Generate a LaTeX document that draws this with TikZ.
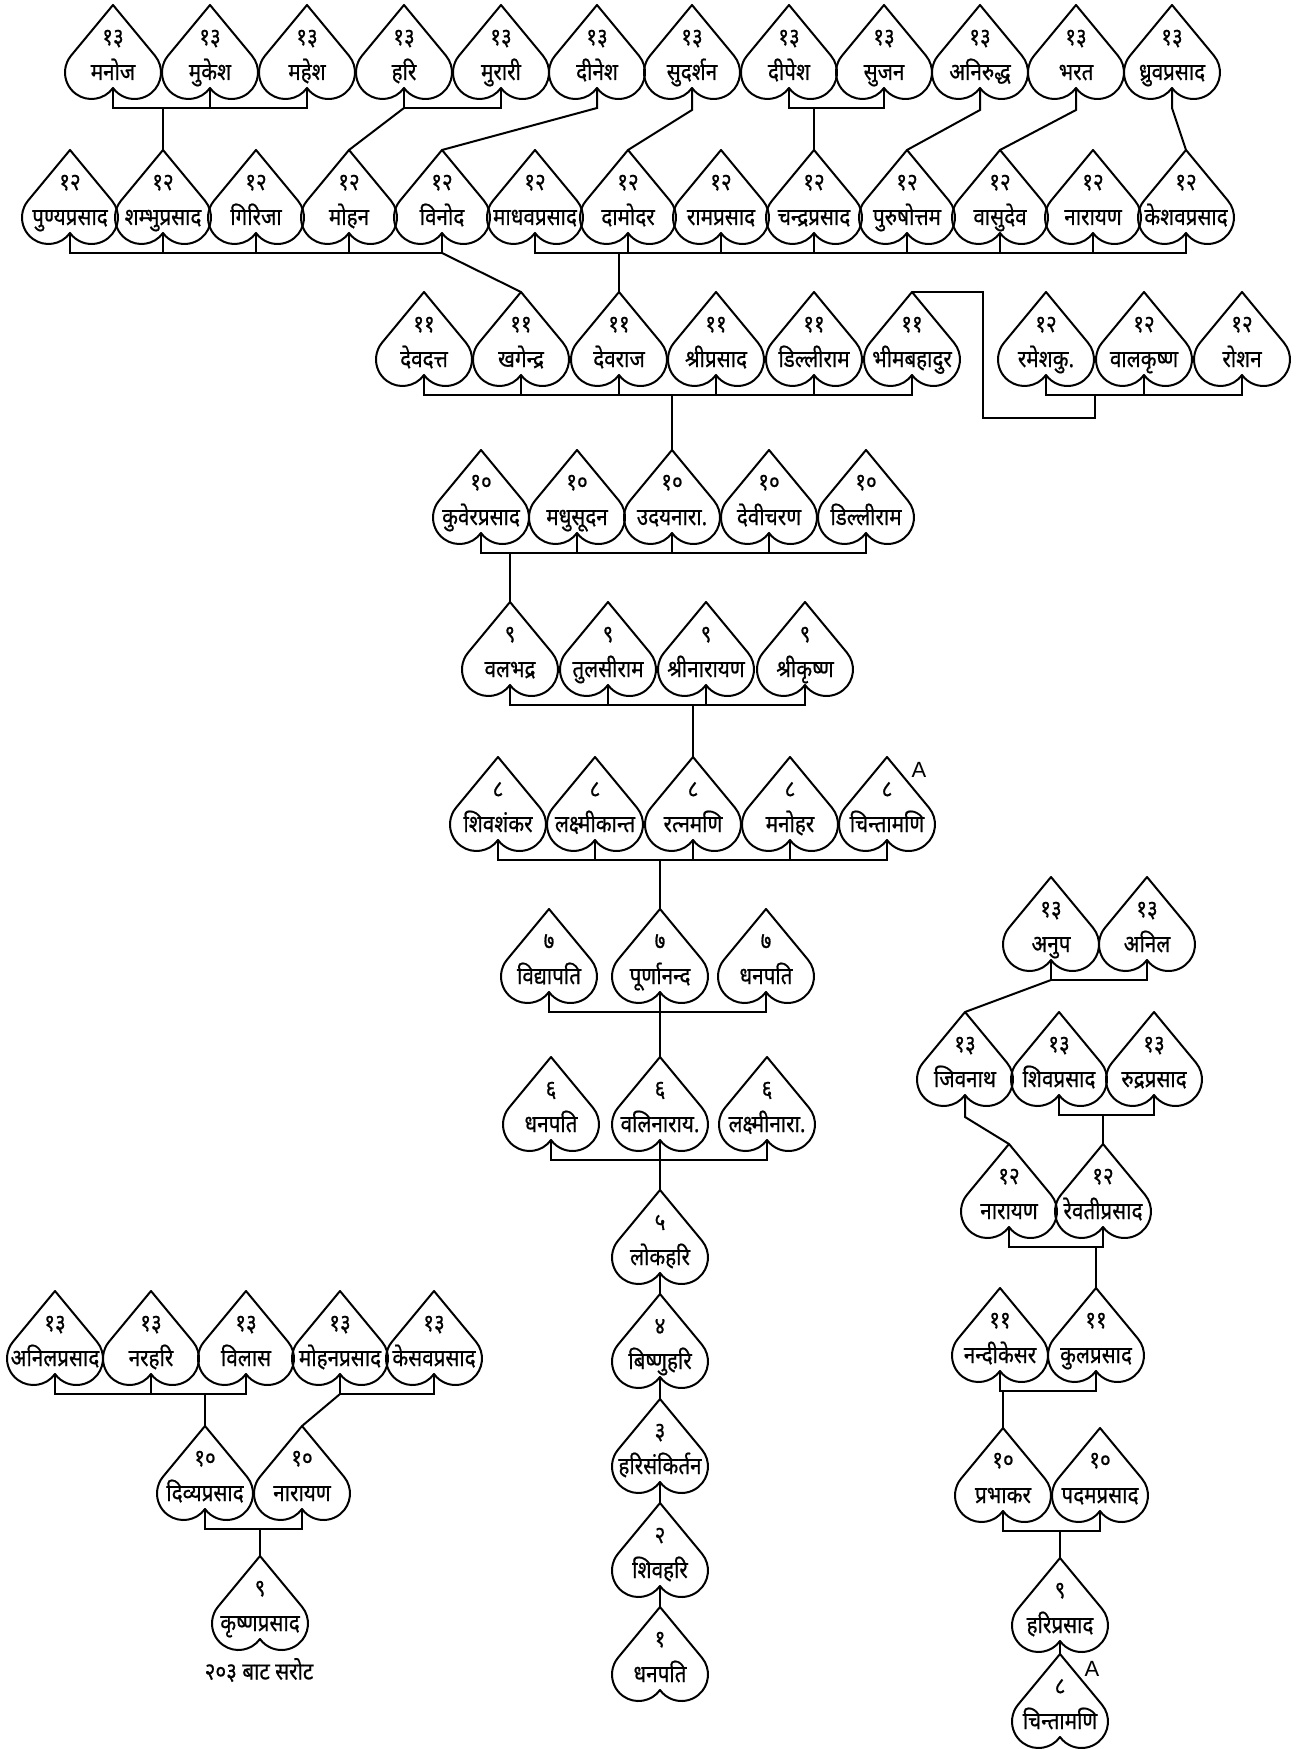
\documentclass[tikz,border=0pt]{standalone}
\usepackage{fontspec}
\setmainfont{Noto Sans}[Script=Devanagari, FakeStretch=0.86, FakeBold=0.6]
\newfontfamily\latinfont{Liberation Sans}
\usepackage{tikz}

\tikzset{
  leafline/.style={line width=1pt, line join=round},
  tie/.style={line width=1pt},
  num/.style={inner sep=0pt, anchor=base, font=\fontsize{12}{13}\selectfont},
  who/.style={inner sep=0pt, anchor=base, font=\fontsize{12}{13}\selectfont},
  tag/.style={inner sep=0pt, font=\latinfont\fontsize{11}{12}\selectfont},
  pics/leaf/.style 2 args={code={
    \draw[leafline] (0,0) -- (41.9,50.6)
      arc[start angle=-39.64, end angle=144.23, radius=26.5]
      arc[start angle=35.77, end angle=219.64, radius=26.5] -- cycle;
    \coordinate (-top) at (0,0);
    \coordinate (-bot) at (0,83);
    \node[num] (-num) at (0,40) {#1};
    \node[who] (-who) at (0,75) {#2};
  }}
}

\begin{document}
\begin{tikzpicture}[x=0.5pt, y=-0.5pt]
\useasboundingbox (0,0) rectangle (1306,1749);

% generation 13
\pic (manoj) at (113,5) {leaf={१३}{मनोज}};
\pic (mukesh) at (210,5) {leaf={१३}{मुकेश}};
\pic (mahesh) at (307,5) {leaf={१३}{महेश}};
\pic (hari) at (404,5) {leaf={१३}{हरि}};
\pic (murari) at (501,5) {leaf={१३}{मुरारी}};
\pic (dinesh) at (597,5) {leaf={१३}{दीनेश}};
\pic (sudarshan) at (692,5) {leaf={१३}{सुदर्शन}};
\pic (dipesh) at (789,5) {leaf={१३}{दीपेश}};
\pic (sujan) at (884,5) {leaf={१३}{सुजन}};
\pic (aniruddha) at (980,5) {leaf={१३}{अनिरुद्ध}};
\pic (bharat) at (1076,5) {leaf={१३}{भरत}};
\pic (dhruva) at (1172,5) {leaf={१३}{ध्रुवप्रसाद}};

% generation 12
\pic (punya) at (70,150) {leaf={१२}{पुण्यप्रसाद}};
\pic (shambhu) at (163,150) {leaf={१२}{शम्भुप्रसाद}};
\pic (girija) at (256,150) {leaf={१२}{गिरिजा}};
\pic (mohan) at (349,150) {leaf={१२}{मोहन}};
\pic (vinod) at (442,150) {leaf={१२}{विनोद}};
\pic (madhav) at (535,150) {leaf={१२}{माधवप्रसाद}};
\pic (damodar) at (628,150) {leaf={१२}{दामोदर}};
\pic (ramp) at (721,150) {leaf={१२}{रामप्रसाद}};
\pic (chandra) at (814,150) {leaf={१२}{चन्द्रप्रसाद}};
\pic (purush) at (907,150) {leaf={१२}{पुरुषोत्तम}};
\pic (vasudev) at (1000,150) {leaf={१२}{वासुदेव}};
\pic (narayanA) at (1093,150) {leaf={१२}{नारायण}};
\pic (keshav) at (1186,150) {leaf={१२}{केशवप्रसाद}};

% generation 11
\pic (devdatta) at (424,292) {leaf={११}{देवदत्त}};
\pic (khagendra) at (521,292) {leaf={११}{खगेन्द्र}};
\pic (devraj) at (619,292) {leaf={११}{देवराज}};
\pic (shrip) at (716,292) {leaf={११}{श्रीप्रसाद}};
\pic (dilliA) at (814,292) {leaf={११}{डिल्लीराम}};
\pic (bhim) at (912,292) {leaf={११}{भीमबहादुर}};
\pic (ramesh) at (1046,292) {leaf={१२}{रमेशकु.}};
\pic (balkrishna) at (1144,292) {leaf={१२}{वालकृष्ण}};
\pic (roshan) at (1242,292) {leaf={१२}{रोशन}};

% generation 10
\pic (kuber) at (481,450) {leaf={१०}{कुवेरप्रसाद}};
\pic (madhusudan) at (577,450) {leaf={१०}{मधुसूदन}};
\pic (udaya) at (672,450) {leaf={१०}{उदयनारा.}};
\pic (devicharan) at (769,450) {leaf={१०}{देवीचरण}};
\pic (dilliB) at (866,450) {leaf={१०}{डिल्लीराम}};

% generation 9
\pic (balbhadra) at (510,602) {leaf={९}{वलभद्र}};
\pic (tulsi) at (608,602) {leaf={९}{तुलसीराम}};
\pic (shrinarayan) at (706,602) {leaf={९}{श्रीनारायण}};
\pic (shrikrishna) at (805,602) {leaf={९}{श्रीकृष्ण}};

% generation 8
\pic (shivshankar) at (498,757) {leaf={८}{शिवशंकर}};
\pic (laxmikant) at (595,757) {leaf={८}{लक्ष्मीकान्त}};
\pic (ratna) at (693,757) {leaf={८}{रत्नमणि}};
\pic (manohar) at (790,757) {leaf={८}{मनोहर}};
\pic (chintaA) at (887,757) {leaf={८}{चिन्तामणि}};
\node[tag] (tagA) at (919,770) {A};

% generation 7 and 6
\pic (vidya) at (549,909) {leaf={७}{विद्यापति}};
\pic (purna) at (660,909) {leaf={७}{पूर्णानन्द}};
\pic (dhanA) at (766,909) {leaf={७}{धनपति}};
\pic (dhanB) at (551,1057) {leaf={६}{धनपति}};
\pic (bali) at (660,1057) {leaf={६}{वलिनाराय.}};
\pic (laxminar) at (767,1057) {leaf={६}{लक्ष्मीनारा.}};

% generation 5 to 1
\pic (lok) at (660,1190) {leaf={५}{लोकहरि}};
\pic (bishnu) at (660,1294) {leaf={४}{बिष्णुहरि}};
\pic (sankirtan) at (660,1399) {leaf={३}{हरिसंकिर्तन}};
\pic (shivhari) at (660,1503) {leaf={२}{शिवहरि}};
\pic (dhanC) at (660,1607) {leaf={१}{धनपति}};

% left branch
\pic (anilp) at (55,1291) {leaf={१३}{अनिलप्रसाद}};
\pic (narhari) at (151,1291) {leaf={१३}{नरहरि}};
\pic (vilas) at (246,1291) {leaf={१३}{विलास}};
\pic (mohanp) at (340,1291) {leaf={१३}{मोहनप्रसाद}};
\pic (kesav) at (434,1291) {leaf={१३}{केसवप्रसाद}};
\pic (divya) at (205,1426) {leaf={१०}{दिव्यप्रसाद}};
\pic (narayanB) at (302,1426) {leaf={१०}{नारायण}};
\pic (krishna) at (260,1556) {leaf={९}{कृष्णप्रसाद}};
\node[who, anchor=center] (note) at (259,1670) {२०३ बाट सरोट};

% right branch
\pic (anup) at (1051,877) {leaf={१३}{अनुप}};
\pic (anil) at (1147,877) {leaf={१३}{अनिल}};
\pic (jivnath) at (965,1012) {leaf={१३}{जिवनाथ}};
\pic (shivp) at (1059,1012) {leaf={१३}{शिवप्रसाद}};
\pic (rudra) at (1154,1012) {leaf={१३}{रुद्रप्रसाद}};
\pic (narayanC) at (1009,1144) {leaf={१२}{नारायण}};
\pic (revati) at (1103,1144) {leaf={१२}{रेवतीप्रसाद}};
\pic (nandi) at (1000,1288) {leaf={११}{नन्दीकेसर}};
\pic (kul) at (1096,1288) {leaf={११}{कुलप्रसाद}};
\pic (prabhakar) at (1003,1428) {leaf={१०}{प्रभाकर}};
\pic (padam) at (1100,1428) {leaf={१०}{पदमप्रसाद}};
\pic (hariprasad) at (1060,1558) {leaf={९}{हरिप्रसाद}};
\pic (chintaB) at (1060,1654) {leaf={८}{चिन्तामणि}};
\node[tag] (tagB) at (1092,1669) {A};

% links 13 -> 12
\draw[tie] (manoj-bot) -- ++(0,20) coordinate (b1) -| (mahesh-bot) (mukesh-bot) -- ++(0,20);
\draw[tie] (b1 -| shambhu-top) -- (shambhu-top);
\draw[tie] (hari-bot) -- ++(0,20) coordinate (b2) -| (murari-bot);
\draw[tie] (b2) -- (mohan-top);
\draw[tie] (dinesh-bot) -- ++(0,20) -- (vinod-top);
\draw[tie] (sudarshan-bot) -- ++(0,22) -- (damodar-top);
\draw[tie] (dipesh-bot) -- ++(0,20) coordinate (b3) -| (sujan-bot);
\draw[tie] (b3 -| chandra-top) -- (chandra-top);
\draw[tie] (aniruddha-bot) -- ++(0,22) -- (purush-top);
\draw[tie] (bharat-bot) -- ++(0,22) -- (vasudev-top);
\draw[tie] (dhruva-bot) -- ++(0,20) -- (keshav-top);

% links 12 -> 11
\draw[tie] (vinod-bot) -- ++(0,20) coordinate (b4) -| (punya-bot)
  (shambhu-bot) -- ++(0,20) (girija-bot) -- ++(0,20) (mohan-bot) -- ++(0,20);
\draw[tie] (b4) -- (khagendra-top);
\draw[tie] (madhav-bot) -- ++(0,20) coordinate (b5) -| (keshav-bot)
  (damodar-bot) -- ++(0,20) (ramp-bot) -- ++(0,20) (chandra-bot) -- ++(0,20)
  (purush-bot) -- ++(0,20) (vasudev-bot) -- ++(0,20) (narayanA-bot) -- ++(0,20);
\draw[tie] (b5 -| devraj-top) -- (devraj-top);
\draw[tie] (ramesh-bot) -- ++(0,20) coordinate (b7) -| (roshan-bot) (balkrishna-bot) -- ++(0,20);
\draw[tie] (bhim-top) -- ++(71,0) |- ++(112,126) -- ++(0,-23);

% links 11 -> 10
\draw[tie] (devdatta-bot) -- ++(0,20) coordinate (b6) -| (bhim-bot)
  (khagendra-bot) -- ++(0,20) (devraj-bot) -- ++(0,20) (shrip-bot) -- ++(0,20) (dilliA-bot) -- ++(0,20);
\draw[tie] (b6 -| udaya-top) -- (udaya-top);

% links 10 -> 9 -> 8 -> 7 -> 6 -> 5
\draw[tie] (kuber-bot) -- ++(0,20) coordinate (b8) -| (dilliB-bot)
  (madhusudan-bot) -- ++(0,20) (udaya-bot) -- ++(0,20) (devicharan-bot) -- ++(0,20);
\draw[tie] (b8 -| balbhadra-top) -- (balbhadra-top);
\draw[tie] (balbhadra-bot) -- ++(0,20) coordinate (b9) -| (shrikrishna-bot)
  (tulsi-bot) -- ++(0,20) (shrinarayan-bot) -- ++(0,20);
\draw[tie] (b9 -| ratna-top) -- (ratna-top);
\draw[tie] (shivshankar-bot) -- ++(0,20) coordinate (b10) -| (chintaA-bot)
  (laxmikant-bot) -- ++(0,20) (ratna-bot) -- ++(0,20) (manohar-bot) -- ++(0,20);
\draw[tie] (b10 -| purna-top) -- (purna-top);
\draw[tie] (vidya-bot) -- ++(0,20) coordinate (b11) -| (dhanA-bot) (purna-bot) -- ++(0,20);
\draw[tie] (b11 -| bali-top) -- (bali-top);
\draw[tie] (dhanB-bot) -- ++(0,20) coordinate (b12) -| (laxminar-bot) (bali-bot) -- ++(0,20);
\draw[tie] (b12 -| lok-top) -- (lok-top);
\draw[tie] (lok-bot) -- (bishnu-top) (bishnu-bot) -- (sankirtan-top)
  (sankirtan-bot) -- (shivhari-top) (shivhari-bot) -- (dhanC-top);

% left branch links
\draw[tie] (anilp-bot) -- ++(0,20) coordinate (b13) -| (vilas-bot) (narhari-bot) -- ++(0,20);
\draw[tie] (b13 -| divya-top) -- (divya-top);
\draw[tie] (mohanp-bot) -- ++(0,20) coordinate (b14) -| (kesav-bot);
\draw[tie] (b14) -- (narayanB-top);
\draw[tie] (divya-bot) -- ++(0,20) coordinate (b15) -| (narayanB-bot);
\draw[tie] (b15 -| krishna-top) -- (krishna-top);

% right branch links
\draw[tie] (anup-bot) -- ++(0,20) coordinate (b16) -| (anil-bot);
\draw[tie] (b16) -- (jivnath-top);
\draw[tie] (jivnath-bot) -- ++(0,22) -- (narayanC-top);
\draw[tie] (shivp-bot) -- ++(0,20) coordinate (b17) -| (rudra-bot);
\draw[tie] (b17 -| revati-top) -- (revati-top);
\draw[tie] (narayanC-bot) -- ++(0,20) coordinate (b18) -| (revati-bot);
\draw[tie] (b18 -| kul-top) -- (kul-top);
\draw[tie] (nandi-bot) -- ++(0,20) coordinate (b19) -| (kul-bot);
\draw[tie] (b19 -| prabhakar-top) -- (prabhakar-top);
\draw[tie] (prabhakar-bot) -- ++(0,20) coordinate (b20) -| (padam-bot);
\draw[tie] (b20 -| hariprasad-top) -- (hariprasad-top);
\draw[tie] (hariprasad-bot) -- (chintaB-top);

\end{tikzpicture}
\end{document}
